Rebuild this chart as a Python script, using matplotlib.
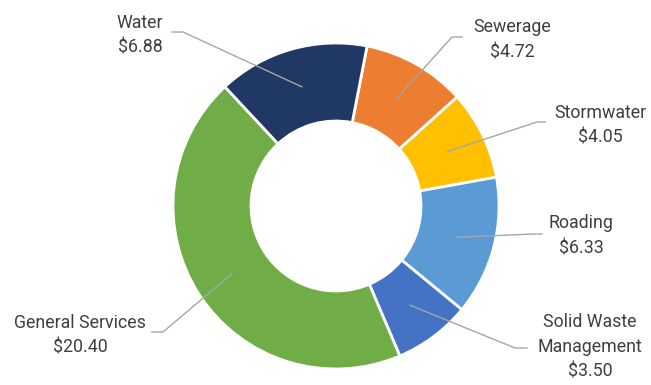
import numpy as np
import matplotlib.pyplot as plt
from matplotlib import font_manager

# data
categories = ['Sewerage', 'Stormwater', 'Roading', 'Solid Waste\nManagement', 'General Services', 'Water']
values = [4.72, 4.05, 6.33, 3.50, 20.40, 6.88]
colors = ['#ED7D31', '#FFC000', '#5B9BD5', '#4472C4', '#70AD47', '#203864']

# layout (pixel units, y up)
W, H = 651, 385
cx, cy, R = 336, 179, 163
ring = 78
# text centre, leader start, leader elbow
label_pos = [
    ((512, 345), (462, 348), (452, 348)),
    ((600, 260), (545, 263), (537, 263)),
    ((581, 149), (542, 151), (533, 151)),
    ((590, 38), (527, 37), (515, 37)),
    ((80, 50), (152, 53), (163, 53)),
    ((140, 350), (172, 353), (183, 353)),
]

names = {f.name for f in font_manager.fontManager.ttflist}
family = 'Liberation Sans Narrow' if 'Liberation Sans Narrow' in names else 'Roboto'
plt.rcParams['font.family'] = [family, 'DejaVu Sans']

fig = plt.figure(figsize=(W / 100, H / 100), dpi=100)
ax = fig.add_axes([0, 0, 1, 1])

wedges, _ = ax.pie(values, colors=colors, startangle=79, counterclock=False,
                   center=(cx, cy), radius=R, frame=True,
                   wedgeprops=dict(width=ring, edgecolor='white', linewidth=2))
ax.set_xlim(0, W)
ax.set_ylim(0, H)
ax.set_aspect('equal')
ax.axis('off')

rmid = R - ring / 2
for w, name, val, (tpos, p0, p1) in zip(wedges, categories, values, label_pos):
    ang = np.deg2rad((w.theta1 + w.theta2) / 2)
    px, py = cx + rmid * np.cos(ang), cy + rmid * np.sin(ang)
    ax.plot([p0[0], p1[0], px], [p0[1], p1[1], py], color='#A6A6A6', lw=1, zorder=3)
    ax.text(tpos[0], tpos[1], f'{name}\n${val:.2f}', ha='center', va='center',
            fontsize=12.8, color='#3F3F3F', linespacing=1.5)

fig.savefig('out.png', dpi=100)
